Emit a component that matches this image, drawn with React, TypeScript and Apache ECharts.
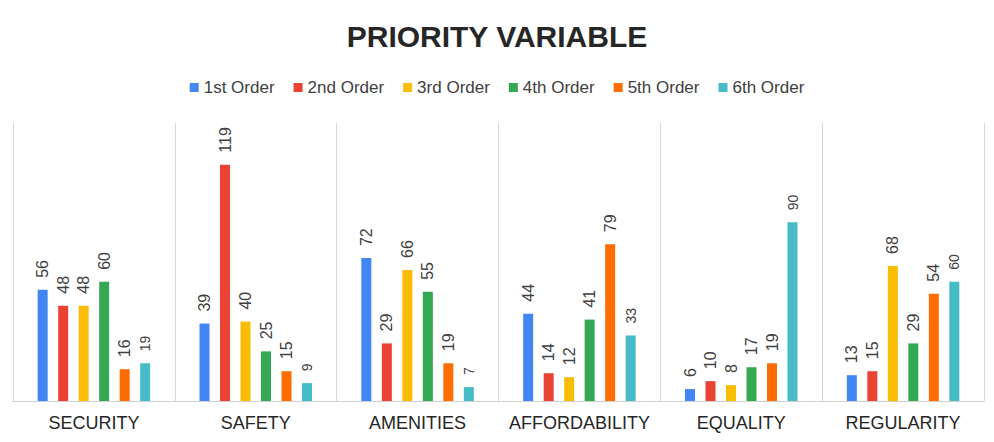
import React, { useEffect, useRef } from "react";
import * as echarts from "echarts";

const categories = ["SECURITY", "SAFETY", "AMENITIES", "AFFORDABILITY", "EQUALITY", "REGULARITY"];
const seriesNames = ["1st Order", "2nd Order", "3rd Order", "4th Order", "5th Order", "6th Order"];
const order1 = [56, 39, 72, 44, 6, 13];
const order2 = [48, 119, 29, 14, 10, 15];
const order3 = [48, 40, 66, 12, 8, 68];
const order4 = [60, 25, 55, 41, 17, 29];
const order5 = [16, 15, 19, 79, 19, 54];
const order6 = [19, 9, 7, 33, 90, 60];
const colors = ["#4285F4", "#EA4335", "#FBBC04", "#34A853", "#FF6D01", "#46BDC6"];

export default function App() {
  const ref = useRef<HTMLDivElement>(null);
  useEffect(() => {
    if (!ref.current) return;
    const chart = echarts.init(ref.current, undefined, { renderer: "svg" });
    const data = [order1, order2, order3, order4, order5, order6];
    const font = "'Liberation Sans', Arial, sans-serif";
    chart.setOption({
      animation: false,
      backgroundColor: "#ffffff",
      title: {
        text: "PRIORITY VARIABLE",
        left: "center",
        top: 16,
        textStyle: { fontSize: 30, fontWeight: "bold", color: "#262626", fontFamily: font },
      },
      legend: {
        top: 74,
        left: "center",
        icon: "rect",
        itemWidth: 9,
        itemHeight: 9,
        itemGap: 19,
        textStyle: { fontSize: 17, color: "#404040", fontFamily: font },
        data: seriesNames,
      },
      grid: { left: 13, right: 10, top: 123, bottom: 41 },
      xAxis: {
        type: "category",
        data: categories,
        axisLine: { show: true, lineStyle: { color: "#d0d0d0", width: 1 } },
        axisTick: { show: false, interval: 0 },
        axisLabel: { interval: 0, fontSize: 18, color: "#262626", margin: 13, fontFamily: font },
        splitLine: { show: true, interval: 0, lineStyle: { color: "#d9d9d9", width: 1 } },
      },
      yAxis: {
        type: "value",
        min: 0,
        max: 140,
        show: false,
        splitLine: { show: false },
      },
      series: data.map((d, i) => ({
        name: seriesNames[i],
        type: "bar",
        data: d,
        barWidth: 10,
        barGap: "105%",
        itemStyle: { color: colors[i] },
        label: {
          show: true,
          position: "top",
          rotate: 90,
          align: "left",
          verticalAlign: "middle",
          distance: 12,
          fontSize: i === 5 ? 14 : 16,
          color: "#404040",
          fontFamily: font,
        },
      })),
    });
    return () => chart.dispose();
  }, []);
  return <div ref={ref} style={{ position: "fixed", left: 0, top: 0, width: 994, height: 442 }} />;
}
